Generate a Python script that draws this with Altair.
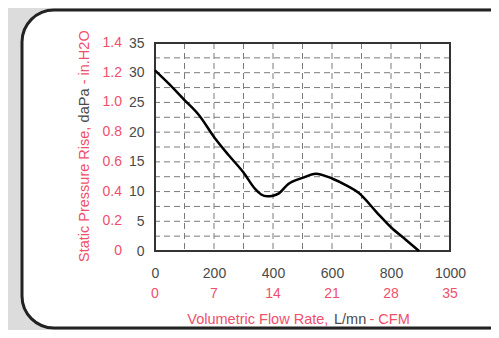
import altair as alt
import pandas as pd

# Fan curve (x: L/mn, y: daPa)
flow = [0, 50, 100, 150, 200, 250, 300, 340, 360, 380, 400, 420, 450, 500, 545, 600, 650, 690, 750, 800, 850, 895]
pressure = [30.4, 28.0, 25.4, 22.8, 19.2, 16.1, 13.2, 10.4, 9.5, 9.2, 9.3, 9.7, 11.2, 12.3, 13.0, 12.2, 11.0, 9.8, 6.6, 4.0, 1.9, 0.0]

# Axis ticks
x_ticks = [0, 200, 400, 600, 800, 1000]
cfm_labels = ["0", "7", "14", "21", "28", "35"]
y_ticks = [0, 5, 10, 15, 20, 25, 30, 35]
h2o_labels = ["0", "0.2", "0.4", "0.6", "0.8", "1.0", "1.2", "1.4"]

PINK = "#ef4f6c"
GRAY = "#4a4a4a"
FONT = "Liberation Sans"

W, H = 295, 208
xs = alt.Scale(domain=[0, 1000], nice=False)
ys = alt.Scale(domain=[0, 35], nice=False)

x_axis = alt.Axis(
    values=x_ticks, title=None, grid=False, ticks=False, domain=False, format="d",
    labelFlush=False, labelOverlap=False,
    labelFont=FONT, labelFontSize=14, labelColor=GRAY, labelPadding=15, zindex=1)
y_axis = alt.Axis(
    values=y_ticks, title=None, grid=False, ticks=False, domain=False, format="d",
    labelFlush=False, labelOverlap=False,
    labelFont=FONT, labelFontSize=14, labelColor=GRAY, labelPadding=11, zindex=1)

curve_df = pd.DataFrame({"flow": flow, "pressure": pressure})
xlab_df = pd.DataFrame({"flow": x_ticks, "label": cfm_labels})
ylab_df = pd.DataFrame({"pressure": y_ticks, "label": h2o_labels})
one = pd.DataFrame({"a": [0]})

frame = alt.Chart(one).mark_rect(
    fill="white", stroke="#222222", strokeWidth=3, cornerRadius=32
).encode(
    x=alt.value(-133), x2=alt.value(420), y=alt.value(-33), y2=alt.value(285)
)

hgrid = alt.Chart(alt.sequence(0, 35.1, 2.5, as_="pressure")).mark_rule(
    color="#7a7a7a", strokeWidth=1, strokeDash=[6, 4]
).encode(y=alt.Y("pressure:Q", scale=ys, axis=y_axis))

vgrid = alt.Chart(alt.sequence(0, 1001, 100, as_="flow")).mark_rule(
    color="#7a7a7a", strokeWidth=1, strokeDash=[6, 4]
).encode(x=alt.X("flow:Q", scale=xs, axis=x_axis))

line = alt.Chart(curve_df).mark_line(
    color="black", strokeWidth=2.5, interpolate="monotone"
).encode(
    x=alt.X("flow:Q", scale=xs, axis=x_axis),
    y=alt.Y("pressure:Q", scale=ys, axis=y_axis),
)

border = alt.Chart(curve_df).mark_rect(
    fillOpacity=0, stroke="#333333", strokeWidth=2
).encode(
    x=alt.X("min(flow):Q", scale=xs, axis=x_axis),
    x2=alt.value(W),
    y=alt.Y("min(pressure):Q", scale=ys, axis=y_axis),
    y2=alt.value(0),
)

ypink = alt.Chart(ylab_df).mark_text(
    font=FONT, fontSize=14, color=PINK, align="right", baseline="middle"
).encode(x=alt.value(-33), y=alt.Y("pressure:Q", scale=ys, axis=y_axis), text="label:N")

xpink = alt.Chart(xlab_df).mark_text(
    font=FONT, fontSize=14, color=PINK, align="center", baseline="alphabetic"
).encode(x=alt.X("flow:Q", scale=xs, axis=x_axis), y=alt.value(255), text="label:N")


def seg(txt, color, x, y, angle=0):
    return alt.Chart(one).mark_text(
        text=txt, font=FONT, fontSize=14.5, color=color, align="left",
        baseline="alphabetic", angle=angle
    ).encode(x=alt.value(x), y=alt.value(y))


xt1 = seg("Volumetric Flow Rate,", PINK, 32.3, 281)
xt2 = seg("L/mn", GRAY, 179, 281)
xt3 = seg("- CFM", PINK, 214.5, 281)

yt1 = seg("Static Pressure Rise,", PINK, -66.3, 219, 270)
yt2 = seg("daPa", GRAY, -66.3, 79.4, 270)
yt3 = seg("- in.H2O", PINK, -66.3, 41.3, 270)

chart = alt.layer(
    frame, hgrid, vgrid, border, line, ypink, xpink, xt1, xt2, xt3, yt1, yt2, yt3
).properties(
    width=W, height=H,
    padding={"left": 147, "top": 35, "right": 41, "bottom": 79},
    autosize=alt.AutoSizeParams(type="none"),
    background="#dcdcdc",
).configure_view(stroke=None)

chart.save("out.html", embed_options={"renderer": "svg", "actions": False})
